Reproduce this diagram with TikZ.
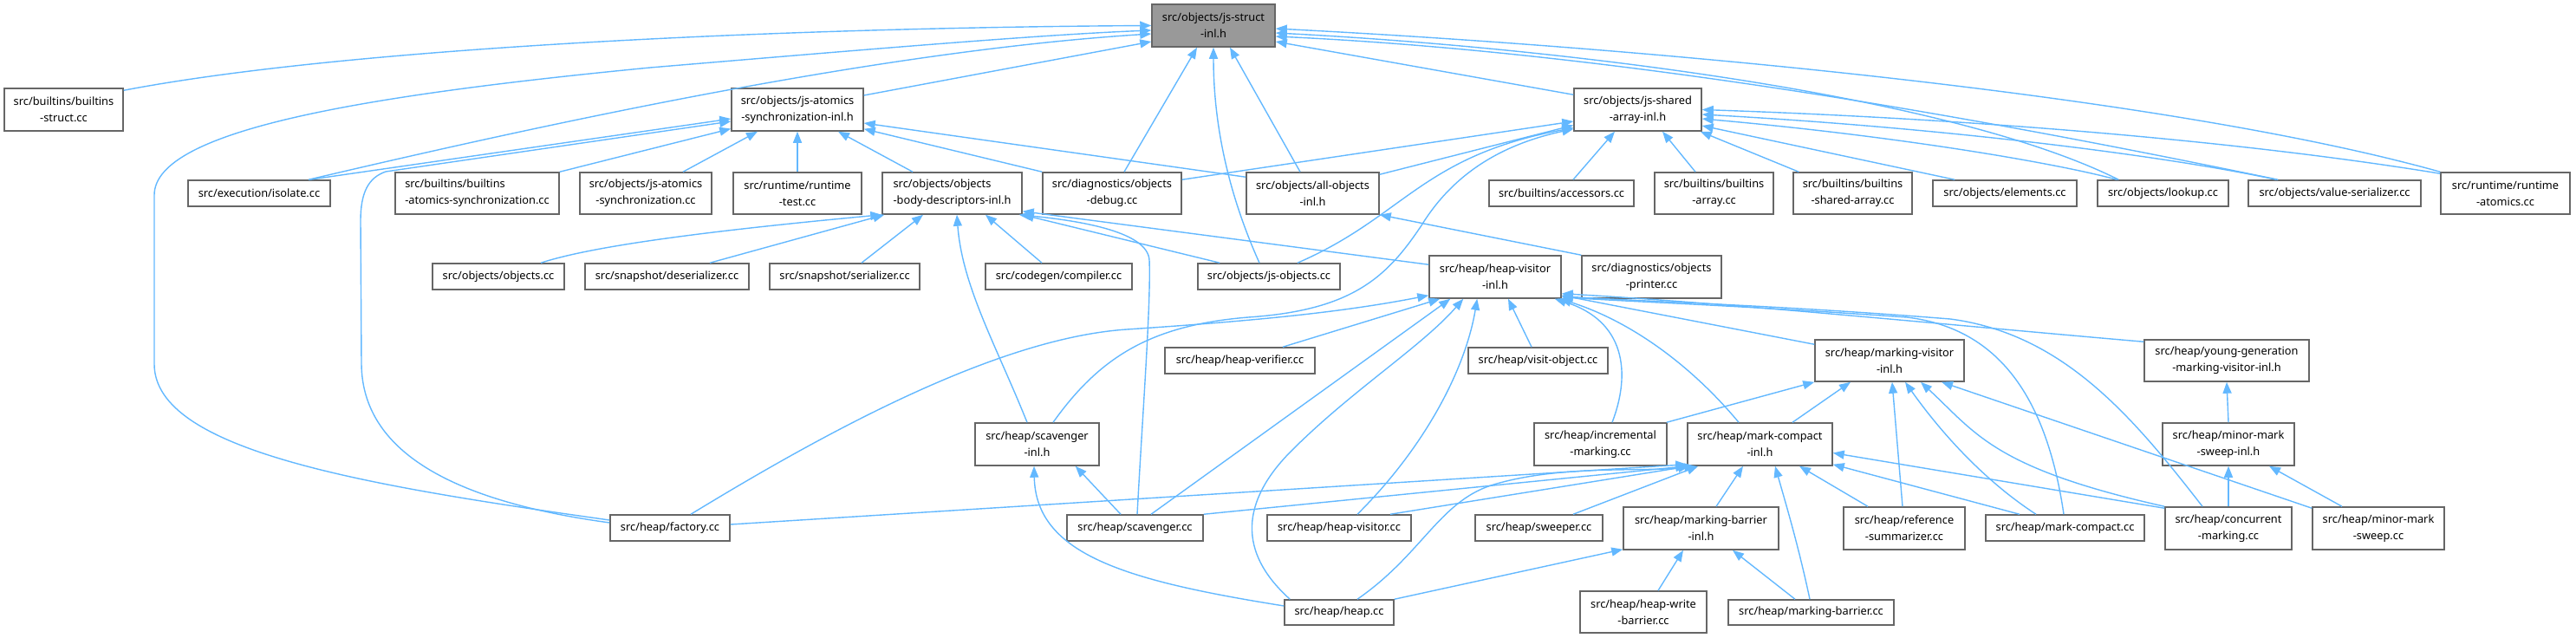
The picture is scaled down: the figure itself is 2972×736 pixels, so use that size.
\documentclass[tikz,border=0pt]{standalone}
\usepackage{fontspec}
\setmainfont{Noto Sans}
\usetikzlibrary{arrows.meta}
\definecolor{eblue}{HTML}{63B8FF}
\definecolor{bord}{HTML}{666666}
\definecolor{mainfill}{HTML}{999999}
\newcommand\ndfont{\fontsize{12.8pt}{19pt}\selectfont}
\newcommand\bnode[7]{%
 \pgfmathsetmacro\bnX{(#3+#4)/2}%
 \pgfmathsetmacro\bnY{-(#5+#6)/2}%
 \pgfmathsetmacro\bnW{#4-#3}%
 \pgfmathsetmacro\bnH{#6-#5}%
 \node[nd,#1,minimum width=\bnW pt,minimum height=\bnH pt] (#2) at (\bnX,\bnY) {#7};}
\tikzset{
 nd/.style={draw=bord, line width=1.5pt, fill=white, inner sep=0pt, align=center, font=\ndfont, text=black},
 e/.style={draw=eblue, line width=1.4pt, -{Triangle[length=13pt,width=10pt]}},
}
\begin{document}
\begin{tikzpicture}[x=1pt,y=1pt]
\useasboundingbox (0,0) rectangle (2972,-736);
% nodes
\bnode{fill=mainfill}{main}{1329}{1471}{5}{54}{src/objects/js-struct\\-inl.h}
\bnode{}{bstruct}{5}{142}{102}{151}{src/builtins/builtins\\-struct.cc}
\bnode{}{jsatom}{844}{996}{102}{151}{src/objects/js-atomics\\-synchronization-inl.h}
\bnode{}{jsshared}{1816}{1963}{102}{151}{src/objects/js-shared\\-array-inl.h}
\bnode{}{isolate}{217}{381}{208}{238}{src/execution/isolate.cc}
\bnode{align=left}{batomsync}{456}{645}{199}{247}{src/builtins/builtins\\-atomics-synchronization.cc}
\bnode{}{ojsatomcc}{669}{821}{199}{247}{src/objects/js-atomics\\-synchronization.cc}
\bnode{}{rttest}{846}{994}{199}{247}{src/runtime/runtime\\-test.cc}
\bnode{align=left}{bodydesc}{1018}{1179}{199}{247}{src/objects/objects\\-body-descriptors-inl.h}
\bnode{}{odebug}{1203}{1363}{199}{247}{src/diagnostics/objects\\-debug.cc}
\bnode{}{allobj}{1438}{1591}{199}{247}{src/objects/all-objects\\-inl.h}
\bnode{}{accessors}{1718}{1885}{208}{238}{src/builtins/accessors.cc}
\bnode{}{barray}{1909}{2046}{199}{247}{src/builtins/builtins\\-array.cc}
\bnode{}{bsharedarray}{2069}{2206}{199}{247}{src/builtins/builtins\\-shared-array.cc}
\bnode{}{elements}{2230}{2396}{208}{238}{src/objects/elements.cc}
\bnode{}{lookup}{2420}{2571}{208}{238}{src/objects/lookup.cc}
\bnode{}{valser}{2594}{2793}{208}{238}{src/objects/value-serializer.cc}
\bnode{}{rtatomics}{2816}{2965}{199}{247}{src/runtime/runtime\\-atomics.cc}
\bnode{}{objectscc}{499}{651}{304}{334}{src/objects/objects.cc}
\bnode{}{deser}{675}{864}{304}{334}{src/snapshot/deserializer.cc}
\bnode{}{ser}{888}{1061}{304}{334}{src/snapshot/serializer.cc}
\bnode{}{compiler}{1137}{1306}{304}{334}{src/codegen/compiler.cc}
\bnode{}{jsobjcc}{1382}{1546}{304}{334}{src/objects/js-objects.cc}
\bnode{}{hvinl}{1649}{1801}{295}{344}{src/heap/heap-visitor\\-inl.h}
\bnode{}{printer}{1825}{1986}{295}{344}{src/diagnostics/objects\\-printer.cc}
\bnode{}{hverifier}{1344}{1517}{401}{431}{src/heap/heap-verifier.cc}
\bnode{}{visitobj}{1694}{1855}{401}{431}{src/heap/visit-object.cc}
\bnode{}{mvinl}{2094}{2266}{392}{440}{src/heap/marking-visitor\\-inl.h}
\bnode{}{yginl}{2474}{2664}{392}{440}{src/heap/young-generation\\-marking-visitor-inl.h}
\bnode{}{scavinl}{1125}{1268}{488}{537}{src/heap/scavenger\\-inl.h}
\bnode{}{incr}{1770}{1923}{488}{537}{src/heap/incremental\\-marking.cc}
\bnode{}{mcinl}{1947}{2114}{488}{537}{src/heap/mark-compact\\-inl.h}
\bnode{}{mmsinl}{2495}{2647}{488}{537}{src/heap/minor-mark\\-sweep-inl.h}
\bnode{}{factory}{704}{842}{594}{624}{src/heap/factory.cc}
\bnode{}{scavcc}{1231}{1388}{594}{624}{src/heap/scavenger.cc}
\bnode{}{hvcc}{1462}{1628}{594}{624}{src/heap/heap-visitor.cc}
\bnode{}{sweeper}{1702}{1849}{594}{624}{src/heap/sweeper.cc}
\bnode{}{mbinl}{1873}{2052}{585}{634}{src/heap/marking-barrier\\-inl.h}
\bnode{}{refsum}{2127}{2267}{585}{634}{src/heap/reference\\-summarizer.cc}
\bnode{}{mccc}{2291}{2474}{594}{624}{src/heap/mark-compact.cc}
\bnode{}{concur}{2498}{2644}{585}{634}{src/heap/concurrent\\-marking.cc}
\bnode{}{mmscc}{2668}{2820}{585}{634}{src/heap/minor-mark\\-sweep.cc}
\bnode{}{heapcc}{1482}{1608}{692}{721}{src/heap/heap.cc}
\bnode{}{hwb}{1823}{1969}{682}{730}{src/heap/heap-write\\-barrier.cc}
\bnode{}{mbcc}{1994}{2185}{692}{721}{src/heap/marking-barrier.cc}
% edges to main
\draw[e] ([shift={(0,-3)}]bstruct.north east) .. controls (400,-55) and (900,-32) .. (main.west);
\draw[e] ([shift={(0,9)}]factory.west) .. controls (420,-560) and (178,-520) .. (178,-420) -- (178,-225) .. controls (178,-150) and (420,-110) .. (750,-78) .. controls (1000,-57) and (1200,-40) .. ([shift={(0,-5.5)}]main.west);
\draw[e] ([shift={(57,0)}]isolate.north) .. controls (600,-150) and (1000,-60) .. ([shift={(0,-9.5)}]main.west);
\draw[e] ([shift={(0,16.5)}]jsatom.east) -- ([shift={(0,-18.5)}]main.west);
\draw[e] ([shift={(14,0)}]odebug.north) -- ([shift={(-19,0)}]main.south);
\draw[e] ([shift={(-11,0)}]jsobjcc.north) .. controls (1420,-230) and (1400,-150) .. (main.south);
\draw[e] ([shift={(-14.5,0)}]allobj.north) -- ([shift={(19,0)}]main.south);
\draw[e] ([shift={(0,-8)}]jsshared.north west) -- ([shift={(0,-18.5)}]main.east);
\draw[e] (rtatomics.north west) .. controls (2500,-110) and (1900,-55) .. ([shift={(0,-3.5)}]main.east);
\draw[e] ([shift={(25,0)}]lookup.north west) .. controls (2250,-110) and (1800,-55) .. ([shift={(0,-8.5)}]main.east);
\draw[e] ([shift={(35,0)}]valser.north west) .. controls (2350,-150) and (1900,-62) .. ([shift={(0,-12.5)}]main.east);
% edges to js-atomics-synchronization-inl.h
\draw[e] ([shift={(0,6)}]factory.west) .. controls (520,-578) and (418,-520) .. (417,-420) -- (416,-255) .. controls (416,-222) and (425,-205) .. (445,-198) -- ([shift={(0,-13.5)}]jsatom.west);
\draw[e] ([shift={(58,0)}]isolate.north) -- ([shift={(0,-10.5)}]jsatom.west);
\draw[e] (batomsync.north east) -- ([shift={(0,-22)}]jsatom.west);
\draw[e] ([shift={(43,0)}]ojsatomcc.north) -- ([shift={(-46,0)}]jsatom.south);
\draw[e] (rttest.north) -- (jsatom.south);
\draw[e] ([shift={(-45.5,0)}]bodydesc.north) -- ([shift={(47,0)}]jsatom.south);
\draw[e] (odebug.north west) -- ([shift={(0,3)}]jsatom.south east);
\draw[e] ([shift={(0,-6)}]allobj.north west) -- ([shift={(0,-15.5)}]jsatom.east);
% edges to js-shared-array-inl.h
\draw[e] ([shift={(0,-2)}]rtatomics.north west) .. controls (2600,-165) and (2300,-138) .. (jsshared.east);
\draw[e] ([shift={(33,0)}]valser.north west) .. controls (2500,-180) and (2250,-148) .. ([shift={(0,-5.5)}]jsshared.east);
\draw[e] ([shift={(23,0)}]lookup.north west) .. controls (2380,-190) and (2200,-158) .. ([shift={(0,-10.5)}]jsshared.east);
\draw[e] ([shift={(26,0)}]elements.north west) -- ([shift={(0,-18.5)}]jsshared.east);
\draw[e] ([shift={(13.5,0)}]accessors.north) -- ([shift={(-26.5,0)}]jsshared.south);
\draw[e] ([shift={(-21.5,0)}]barray.north) -- ([shift={(28.5,0)}]jsshared.south);
\draw[e] ([shift={(7,0)}]bsharedarray.north west) -- ([shift={(-2,0)}]jsshared.south east);
\draw[e] ([shift={(0,-9)}]odebug.north east) -- ([shift={(0,-13.5)}]jsshared.west);
\draw[e] ([shift={(0,-3)}]allobj.north east) -- ([shift={(0,-18)}]jsshared.west);
\draw[e] ([shift={(33,0)}]jsobjcc.north) .. controls (1620,-250) and (1640,-180) .. ([shift={(0,-21)}]jsshared.west);
\draw[e] ([shift={(18.5,0)}]scavinl.north) .. controls (1270,-410) and (1330,-375) .. (1440,-366) .. controls (1560,-358) and (1600,-320) .. (1640,-260) .. controls (1680,-195) and (1740,-165) .. ([shift={(0,3)}]jsshared.south west);
% edges to objects-body-descriptors-inl.h
\draw[e] ([shift={(49,0)}]objectscc.north) .. controls (680,-285) and (800,-268) .. (bodydesc.south west);
\draw[e] ([shift={(49.5,0)}]deser.north) -- ([shift={(3,0)}]bodydesc.south west);
\draw[e] ([shift={(19.5,0)}]ser.north) -- ([shift={(-33.5,0)}]bodydesc.south);
\draw[e] ([shift={(-19.5,0)}]compiler.north) -- ([shift={(38.5,0)}]bodydesc.south);
\draw[e] ([shift={(-11.5,0)}]scavinl.north) .. controls (1150,-400) and (1110,-330) .. ([shift={(5.5,0)}]bodydesc.south);
\draw[e] ([shift={(2.5,0)}]scavcc.north) .. controls (1318,-480) and (1328,-350) .. (1326,-300) .. controls (1324,-268) and (1250,-255) .. ([shift={(-4,0)}]bodydesc.south east);
\draw[e] ([shift={(0,-11)}]hvinl.north west) -- ([shift={(0,4)}]bodydesc.south east);
\draw[e] ([shift={(26,0)}]jsobjcc.north west) -- (bodydesc.south east);
% all-objects
\draw[e] (printer.north west) -- (allobj.south east);
% edges to heap-visitor-inl.h
\draw[e] ([shift={(24,0)}]factory.north) .. controls (950,-500) and (1150,-390) .. (1300,-380) .. controls (1450,-370) and (1550,-360) .. ([shift={(0,4)}]hvinl.south west);
\draw[e] ([shift={(49.5,0)}]hverifier.north) -- ([shift={(13,0)}]hvinl.south west);
\draw[e] ([shift={(18.5,0)}]scavcc.north) -- ([shift={(25,0)}]hvinl.south west);
\draw[e] ([shift={(7,0)}]heapcc.north west) .. controls (1420,-630) and (1440,-570) .. (1490,-520) .. controls (1560,-450) and (1640,-400) .. ([shift={(40,0)}]hvinl.south west);
\draw[e] ([shift={(21,0)}]hvcc.north) .. controls (1640,-520) and (1690,-430) .. ([shift={(56,0)}]hvinl.south west);
\draw[e] ([shift={(-7.5,0)}]visitobj.north) -- ([shift={(15,0)}]hvinl.south);
\draw[e] ([shift={(13.5,0)}]incr.north) .. controls (1882,-430) and (1875,-370) .. ([shift={(-8,0)}]hvinl.south east);
\draw[e] ([shift={(-24.5,0)}]mcinl.north) .. controls (1950,-420) and (1880,-370) .. ([shift={(-2,0)}]hvinl.south east);
\draw[e] ([shift={(0,-6)}]mvinl.north west) -- ([shift={(0,4)}]hvinl.south east);
\draw[e] ([shift={(0,-3)}]yginl.north west) .. controls (2250,-375) and (2000,-350) .. ([shift={(0,6)}]hvinl.south east);
\draw[e] ([shift={(-1.5,0)}]mccc.north) .. controls (2360,-450) and (2300,-378) .. (2200,-366) .. controls (2000,-352) and (1880,-348) .. ([shift={(0,2)}]hvinl.south east);
\draw[e] ([shift={(-30,0)}]concur.north) .. controls (2460,-480) and (2380,-385) .. (2250,-368) .. controls (2050,-352) and (1900,-348) .. ([shift={(0,3)}]hvinl.south east);
% edges to mark-compact-inl.h
\draw[e] ([shift={(0,4)}]factory.east) -- ([shift={(0,2)}]mcinl.south west);
\draw[e] (scavcc.north east) -- (mcinl.south west);
\draw[e] ([shift={(59,0)}]hvcc.north) -- ([shift={(3,0)}]mcinl.south west);
\draw[e] ([shift={(21,0)}]heapcc.north) .. controls (1640,-640) and (1660,-580) .. (1720,-560) .. controls (1800,-535) and (1900,-545) .. ([shift={(10,0)}]mcinl.south west);
\draw[e] ([shift={(39.5,0)}]sweeper.north) -- ([shift={(13,0)}]mcinl.south west);
\draw[e] ([shift={(17.5,0)}]mbinl.north) -- ([shift={(-19.5,0)}]mcinl.south);
\draw[e] ([shift={(-1.5,0)}]mbcc.north) .. controls (2075,-630) and (2060,-580) .. ([shift={(17.5,0)}]mcinl.south);
\draw[e] ([shift={(-42,0)}]refsum.north) -- ([shift={(45.5,0)}]mcinl.south);
\draw[e] ([shift={(0,-2)}]concur.north west) -- ([shift={(0,-10)}]mcinl.east);
\draw[e] ([shift={(-52.5,0)}]mccc.north) -- ([shift={(0,2)}]mcinl.south east);
% marking-barrier-inl.h
\draw[e] (heapcc.north east) -- ([shift={(0,1)}]mbinl.south west);
\draw[e] ([shift={(-18.5,0)}]mbcc.north) -- ([shift={(36.5,0)}]mbinl.south);
\draw[e] ([shift={(17,0)}]hwb.north) -- ([shift={(-20.5,0)}]mbinl.south);
% scavenger-inl.h
\draw[e] ([shift={(-16.5,0)}]scavcc.north) -- ([shift={(-28,0)}]scavinl.south east);
\draw[e] ([shift={(0,7.5)}]heapcc.west) .. controls (1300,-670) and (1195,-640) .. ([shift={(-3.5,0)}]scavinl.south);
% marking-visitor-inl.h
\draw[e] ([shift={(-2,0)}]refsum.north) -- ([shift={(3,0)}]mvinl.south);
\draw[e] ([shift={(-33.5,0)}]mccc.north) .. controls (2290,-555) and (2240,-500) .. ([shift={(18,0)}]mvinl.south);
\draw[e] (concur.north west) .. controls (2300,-540) and (2280,-500) .. ([shift={(36,0)}]mvinl.south);
\draw[e] ([shift={(0,-2)}]mmscc.north west) -- ([shift={(60,0)}]mvinl.south);
\draw[e] ([shift={(-1,0)}]incr.north east) -- (mvinl.south west);
\draw[e] ([shift={(37.5,0)}]mcinl.north) -- ([shift={(-45,0)}]mvinl.south);
% minor mark sweep / young generation
\draw[e] (concur.north) -- (mmsinl.south);
\draw[e] ([shift={(-42,0)}]mmscc.north) -- ([shift={(47,0)}]mmsinl.south);
\draw[e] (mmsinl.north) -- (yginl.south);
\end{tikzpicture}
\end{document}
